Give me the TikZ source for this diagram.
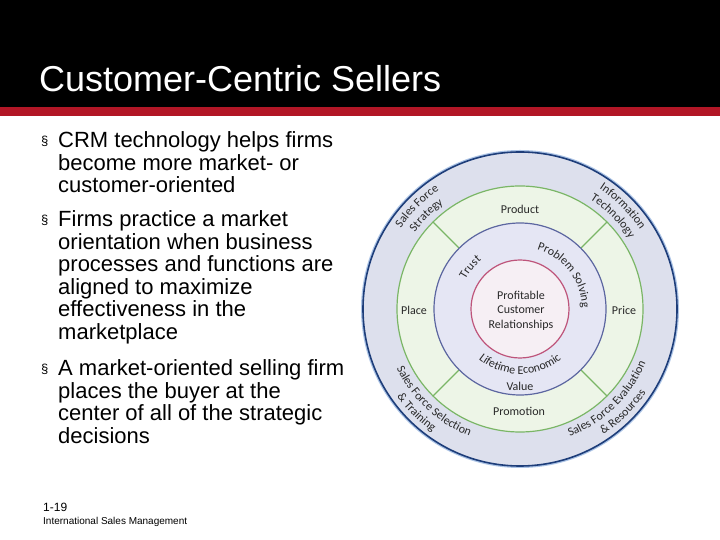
\documentclass[tikz,border=0pt]{standalone}
\usepackage{fontspec}
\setmainfont{Liberation Sans}
\newfontfamily\carlito{Carlito}
\usetikzlibrary{decorations.text}
\definecolor{hdrred}{RGB}{178,22,38}
\definecolor{outerfill}{RGB}{221,224,237}
\definecolor{greenfill}{RGB}{237,245,231}
\definecolor{innerfill}{RGB}{229,230,244}
\definecolor{pinkfill}{RGB}{246,239,244}
\definecolor{greenline}{RGB}{122,182,102}
\definecolor{blueline}{RGB}{92,102,160}
\definecolor{pinkline}{RGB}{190,84,122}
\definecolor{navy}{RGB}{30,62,122}
\definecolor{glow}{RGB}{172,196,230}
\definecolor{ringtxt}{RGB}{40,40,40}
\newcommand\ringfont{\carlito\fontsize{12}{14}\selectfont\color{ringtxt}}
\newcommand\ringtext[4]{%
  \path[decorate,decoration={text along path,text align=center,
    text={|\ringfont|#4}}]
    ({520+#3*cos(#1)},{231+#3*sin(#1)}) arc[start angle=#1,end angle=#2,radius=#3];}
\tikzset{
  bul/.style={anchor=base west,inner sep=0pt,font=\fontsize{22}{24}\selectfont},
  bmark/.style={anchor=base west,inner sep=0pt,font=\fontsize{13}{15}\selectfont},
  lbl/.style={inner sep=0pt,font=\ringfont},
}
\begin{document}
\begin{tikzpicture}[x=1pt,y=1pt]
\useasboundingbox (0,0) rectangle (720,540);
\fill[white] (0,0) rectangle (720,540);
% header
\fill[black] (0,433) rectangle (720,540);
\fill[hdrred] (0,424) rectangle (720,433);
\node[anchor=base west,inner sep=0pt,text=white,font=\fontsize{36}{40}\selectfont] (title) at (39,448) {Customer-Centric Sellers};
% bullets
\node[bmark] (m1) at (41,394) {§};
\node[bul] (b11) at (58,392) {CRM technology helps firms};
\node[bul] (b12) at (58,369.5) {become more market- or};
\node[bul] (b13) at (58,347) {customer-oriented};
\node[bmark] (m2) at (41,315) {§};
\node[bul] (b21) at (58,313) {Firms practice a market};
\node[bul] (b22) at (58,290.5) {orientation when business};
\node[bul] (b23) at (58,268) {processes and functions are};
\node[bul] (b24) at (58,245.5) {aligned to maximize};
\node[bul] (b25) at (58,223) {effectiveness in the};
\node[bul] (b26) at (58,200.5) {marketplace};
\node[bmark] (m3) at (41,166) {§};
\node[bul] (b31) at (58,164) {A market-oriented selling firm};
\node[bul] (b32) at (58,141.5) {places the buyer at the};
\node[bul] (b33) at (58,119) {center of all of the strategic};
\node[bul] (b34) at (58,96.5) {decisions};
% footer
\node[anchor=base west,inner sep=0pt,font=\fontsize{12}{14}\selectfont] (pg) at (43,28) {1-19};
\node[anchor=base west,inner sep=0pt,font=\fontsize{10}{12}\selectfont] (ft) at (43,15.5) {International Sales Management};
% circle diagram
\coordinate (C) at (520,231);
\fill[glow] (C) circle[radius=159];
\fill[outerfill] (C) circle[radius=157];
\draw[navy,line width=1.6pt] (C) circle[radius=157];
\fill[greenfill] (C) circle[radius=123];
\draw[greenline,line width=1.2pt] (C) circle[radius=123];
\foreach \a in {45,135,225,315}
  \draw[greenline,line width=1.2pt] (C) ++(\a:86) -- ++(\a:37);
\fill[innerfill] (C) circle[radius=86];
\draw[blueline,line width=1.2pt] (C) circle[radius=86];
\fill[pinkfill] (C) circle[radius=49];
\draw[pinkline,line width=1.2pt] (C) circle[radius=49];
% center text
\node[lbl] (pr1) at (521,245) {Profitable};
\node[lbl] (pr2) at (521,230) {Customer};
\node[lbl] (pr3) at (521,215) {Relationships};
% 4 P
\node[lbl] (prod) at (520,331) {Product};
\node[lbl] (place) at (414,230) {Place};
\node[lbl] (price) at (624,230) {Price};
\node[lbl] (promo) at (519,129) {Promotion};
\node[lbl] (value) at (520,154) {Value};
% inner curved texts
\ringtext{180}{100}{62}{Trust}
\ringtext{100}{-25}{62}{Problem Solving}
\ringtext{215}{325}{65}{Lifetime Economic}
% outer curved texts
\ringtext{185}{85}{144}{Sales Force}
\ringtext{185}{85}{130}{Strategy}
\ringtext{95}{-5}{144}{Information}
\ringtext{95}{-5}{130}{Technology}
\ringtext{175}{279}{137}{Sales Force Selection}
\ringtext{175}{275}{151}{{\&} Training}
\ringtext{262}{366}{137}{Sales Force Evaluation}
\ringtext{265}{365}{151}{{\&} Resources}
\end{tikzpicture}
\end{document}
